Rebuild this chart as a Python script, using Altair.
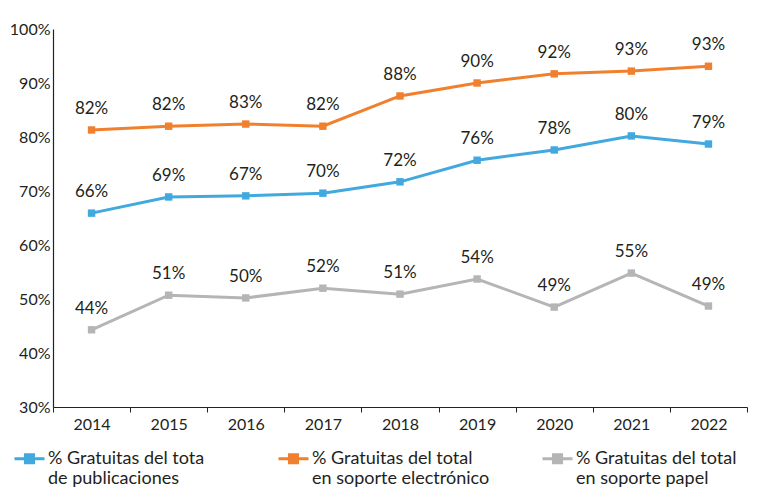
import altair as alt
import pandas as pd

years = ["2014", "2015", "2016", "2017", "2018", "2019", "2020", "2021", "2022"]

total = [65.9, 68.9, 69.1, 69.6, 71.7, 75.7, 77.6, 80.2, 78.7]
electronico = [81.3, 82.0, 82.4, 82.0, 87.6, 90.0, 91.7, 92.2, 93.1]
papel = [44.3, 50.7, 50.2, 52.0, 50.9, 53.7, 48.5, 54.8, 48.7]

total_lbl = ["66%", "69%", "67%", "70%", "72%", "76%", "78%", "80%", "79%"]
elec_lbl = ["82%", "82%", "83%", "82%", "88%", "90%", "92%", "93%", "93%"]
papel_lbl = ["44%", "51%", "50%", "52%", "51%", "54%", "49%", "55%", "49%"]

series = [
    "% Gratuitas del tota|de publicaciones",
    "% Gratuitas del total|en soporte electrónico",
    "% Gratuitas del total|en soporte papel",
]
colors = ["#41A9DE", "#F0802E", "#B5B5B7"]

rows = []
for s, vals, lbls in zip(series, [total, electronico, papel], [total_lbl, elec_lbl, papel_lbl]):
    for y, v, l in zip(years, vals, lbls):
        rows.append({"year": y, "value": v, "label": l, "series": s})
df = pd.DataFrame(rows)

FONT = "Lato"
TXT = "#231F20"

x = alt.X(
    "year:O",
    scale=alt.Scale(type="band", paddingInner=0, paddingOuter=0),
    bandPosition=0.5,
    axis=alt.Axis(
        title=None, labelAngle=0, tickBand="extent", tickSize=5,
        domainColor="#222", tickColor="#222", domainWidth=1.2,
        labelFontSize=16, labelColor=TXT, labelFont=FONT, labelPadding=4,
    ),
)
y = alt.Y(
    "value:Q",
    scale=alt.Scale(domain=[30, 100], nice=False, zero=False),
    axis=alt.Axis(
        title=None, values=[30, 40, 50, 60, 70, 80, 90, 100], grid=False,
        ticks=False, domainColor="#222", domainWidth=1.2,
        labelExpr="datum.value + '%'", labelFontSize=16, labelColor=TXT,
        labelFont=FONT, labelPadding=3,
    ),
)
color = alt.Color(
    "series:N",
    scale=alt.Scale(domain=series, range=colors),
    legend=alt.Legend(
        title=None, orient="none", legendX=-40, legendY=413,
        direction="horizontal", columns=3, gridAlign="all", columnPadding=46,
        labelExpr="split(datum.label, '|')", labelFontSize=18, labelFont=FONT,
        labelColor=TXT, labelLimit=0, labelOffset=2,
        symbolType="M-1,0L1,0M-0.27,-0.27L0.27,-0.27L0.27,0.27L-0.27,0.27Z",
        symbolSize=900, symbolStrokeWidth=3,
    ),
)

base = alt.Chart(df)
lines = base.mark_line(strokeWidth=3).encode(x=x, y=y, color=color)
pts = base.mark_square(size=55, opacity=1).encode(
    x=x, y=y,
    color=alt.Color("series:N", scale=alt.Scale(domain=series, range=colors), legend=None),
)
labels = base.mark_text(dy=-21, fontSize=17, font=FONT, color=TXT).encode(x=x, y=y, text="label:N")

chart = (
    alt.layer(lines, pts, labels)
    .properties(
        width=694, height=378,
        autosize=alt.AutoSizeParams(type="none"),
        padding={"left": 45, "top": 21, "right": 9, "bottom": 82},
    )
    .configure_view(stroke=None)
)

chart.save("out.html", embed_options={"renderer": "svg", "actions": False})
